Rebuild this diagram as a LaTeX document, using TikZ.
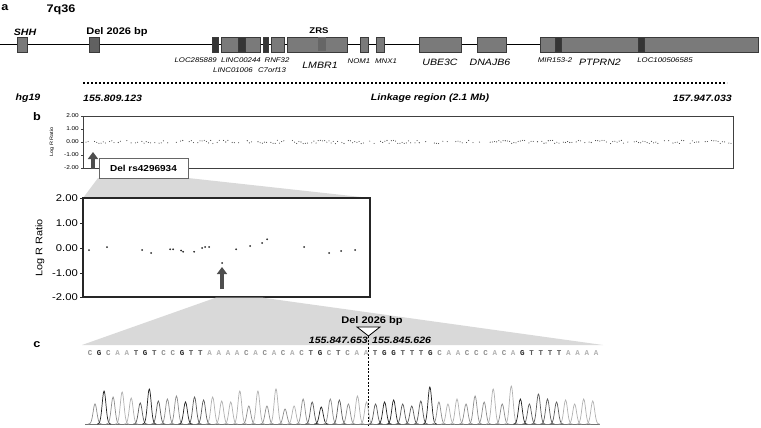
\documentclass[tikz,border=0pt]{standalone}
\usepackage{fontspec}
\setmainfont[FakeStretch=1.15]{Liberation Sans}
\setmonofont{Liberation Mono}
\usepackage{tikz}
\usetikzlibrary{arrows.meta}

\definecolor{genefill}{HTML}{7A7A7A}
\definecolor{geneedge}{HTML}{3A3A3A}
\definecolor{genedark}{HTML}{353535}
\definecolor{zoomgray}{HTML}{D9D9D9}
\definecolor{arrowgray}{HTML}{4E4E4E}
\definecolor{baseA}{HTML}{B0B0B0}
\definecolor{baseC}{HTML}{8C8C8C}
\definecolor{baseG}{HTML}{202020}
\definecolor{baseT}{HTML}{5A5A5A}

\tikzset{
  gene/.style={draw=geneedge, fill=genefill, line width=0.9pt},
  genedark/.style={draw=geneedge, fill=genedark, line width=0.9pt},
  lbl/.style={inner sep=0pt},
  glabel/.style={lbl, font=\fontsize{6.8}{7}\selectfont\itshape},
  gbig/.style={lbl, font=\fontsize{9.2}{10}\selectfont\itshape},
  boldlbl/.style={lbl, font=\fontsize{9.6}{10}\selectfont\bfseries},
  bilbl/.style={lbl, font=\fontsize{9.2}{10}\selectfont\bfseries\itshape},
  panel/.style={lbl, font=\fontsize{11}{12}\selectfont\bfseries},
  tinytick/.style={lbl, anchor=east, font=\fontsize{5.6}{6}\selectfont},
  bigtick/.style={lbl, anchor=east, font=\fontsize{9.8}{10}\selectfont},
  fatarrow/.style={-{Triangle[width=10pt,length=7pt]}, line width=4.2pt, arrowgray},
  delbox/.style={draw=black!60, fill=white, line width=0.8pt, minimum width=89pt,
    minimum height=20pt, font=\fontsize{8.7}{9}\selectfont\bfseries},
  seqbase/.style={lbl, font=\fontsize{7.5}{8}\selectfont\ttfamily\bfseries},
}

\begin{document}
\begin{tikzpicture}[x=1pt,y=-1pt]
\useasboundingbox (0,0) rectangle (761,428);

% panel a: region on 7q36
\node[panel] (pa) at (5,8) {a};
\node[lbl, font=\fontsize{11}{12}\selectfont\bfseries] (band) at (61,10) {7q36};

\draw[line width=1.2pt] (0,44.5) -- (758,44.5);

\draw[gene] (17,37) rectangle (27,52);
\draw[draw=geneedge, fill=black!62, line width=0.9pt] (89,37) rectangle (99,52);
\draw[genedark] (212,37) rectangle (218,52);
\draw[gene] (221,37) rectangle (260,52);
\fill[genedark] (238,37.5) rectangle (245,51.5);
\draw[genedark] (263,37) rectangle (268,52);
\draw[gene] (271,37) rectangle (284,52);
\draw[gene] (287,37) rectangle (347,52);
\fill[black!60] (318,37.5) rectangle (326,51.5);
\draw[gene] (360,37) rectangle (368,52);
\draw[gene] (376,37) rectangle (384,52);
\draw[gene] (419,37) rectangle (461,52);
\draw[gene] (477,37) rectangle (506,52);
\draw[gene] (540,37) rectangle (758,52);
\fill[genedark] (555,37.5) rectangle (561,51.5);
\fill[genedark] (638,37.5) rectangle (644,51.5);

\node[bilbl] (shh) at (25,32) {SHH};
\node[boldlbl] (del) at (117,32) {Del 2026 bp};
\node[lbl, font=\fontsize{8.3}{9}\selectfont\bfseries] (zrs) at (319,31) {ZRS};
\node[glabel, anchor=east] (loc1) at (217,60) {LOC285889};
\node[glabel] (linca) at (241,60) {LINC00244};
\node[glabel] (lincb) at (233,70) {LINC01006};
\node[glabel] (rnf) at (277,60) {RNF32};
\node[glabel] (c7) at (272,70) {C7orf13};
\node[gbig] (lmbr) at (320,65) {LMBR1};
\node[glabel] (nom) at (359,61) {NOM1};
\node[glabel] (mnx) at (386,61) {MNX1};
\node[gbig] (ube) at (440,62) {UBE3C};
\node[gbig] (dnaj) at (490,62) {DNAJB6};
\node[glabel] (mir) at (555,60) {MIR153-2};
\node[gbig] (ptp) at (600,62) {PTPRN2};
\node[glabel] (loc2) at (665,60) {LOC100506585};

\draw[line width=2pt, dash pattern=on 2pt off 2pt] (83,83) -- (727,83);
\node[bilbl] (hg) at (28,98) {hg19};
\node[bilbl, anchor=west] (startpos) at (83,98) {155.809.123};
\node[bilbl] (linkage) at (430,98) {Linkage region (2.1 Mb)};
\node[bilbl, anchor=east] (endpos) at (732,98) {157.947.033};

% panel b: log R ratio
\node[panel] (pb) at (37,117) {b};
\draw[black!75, line width=0.6pt] (83,116) rectangle (733,168);
\foreach \v/\yy in {2.00/116,1.00/129,0.00/142,-1.00/155,-2.00/168}{
  \draw[black!75, line width=0.4pt] (81,\yy) -- (83,\yy);
  \node[tinytick] at (79,\yy) {\v};
}
\node[lbl, rotate=90, font=\fontsize{4.8}{5}\selectfont] (logra) at (52,142) {Log R Ratio};
\pgfmathsetseed{11}
\foreach \i in {0,...,300}{
  \pgfmathtruncatemacro\keep{4*rnd}
  \pgfmathsetmacro\yy{142+1.7*rand}
  \ifnum\keep>0
    \fill[black!75] (86+2.15*\i,\yy) circle (0.55pt);
  \fi
}

% zoom wedge to the detail plot
\coordinate (lpnw) at (83,198);
\coordinate (lpne) at (370,198);
\coordinate (lpse) at (370,297);
\coordinate (lpsw) at (83,297);
\fill[zoomgray] (98,178) -- (188,178) -- (lpne) -- (lpnw) -- cycle;

\coordinate (arrAbase) at (93,169);
\coordinate (arrAtip) at (93,152);
\draw[fatarrow] (arrAbase) -- (arrAtip);
\node[delbox] (delrs) at (143.5,168) {Del rs4296934};

\draw[black!85, line width=1.2pt] (lpnw) rectangle (lpse);
\foreach \v/\yy in {2.00/198,1.00/223,0.00/248,-1.00/273,-2.00/297}{
  \draw[black!85, line width=0.5pt] (80,\yy) -- (83,\yy);
  \node[bigtick] at (78,\yy) {\v};
}
\node[lbl, rotate=90, font=\fontsize{9.5}{10}\selectfont] (lograb) at (40,248) {Log R Ratio};
\foreach \px/\v in {89/-0.08,107/0.04,142/-0.08,151/-0.2,170/-0.05,173/-0.05,
  181/-0.1,183/-0.15,194/-0.15,202/0.0,205/0.04,209/0.04,222/-0.6,236/-0.05,
  250/0.08,262/0.2,267/0.35,304/0.04,329/-0.2,341/-0.12,355/-0.08}{
  \fill[black!85] (\px,248-25*\v) circle (1pt);
}
\coordinate (arrBbase) at (222,289);
\coordinate (arrBtip) at (222,267);
\draw[fatarrow] (arrBbase) -- (arrBtip);

% panel c: sequence of the breakpoint
\coordinate (wnw) at (216,297.6);
\coordinate (wne) at (262,297.6);
\coordinate (wse) at (603,345);
\coordinate (wsw) at (82,345);
\fill[zoomgray] (wnw) -- (wne) -- (wse) -- (wsw) -- cycle;

\node[panel] (pc) at (37,345) {c};
\node[boldlbl] (delbp) at (372,321) {Del 2026 bp};
\coordinate (brk) at (368.5,336);
\coordinate (brkend) at (368.5,426);
\draw[fill=white, line width=0.8pt] (357,327) -- (380,327) -- (brk) -- cycle;
\draw[line width=0.8pt, dash pattern=on 2pt off 1.5pt] (brk) -- (brkend);
\node[bilbl, anchor=east] (posl) at (368,340) {155.847.653};
\node[bilbl, anchor=west] (posr) at (372,340) {155.845.626};

\draw[black!55, line width=0.6pt] (85,424) -- (600,424);
\foreach \b/\h [count=\i from 0] in {C/20,G/33,C/27,A/32,A/26,T/21,G/35,T/23,
  C/25,C/28,G/22,T/27,T/24,A/27,A/23,A/22,A/33,C/18,A/33,C/18,A/35,C/15,A/18,
  C/25,T/22,G/17,C/25,T/24,C/20,A/28,A/22,T/20,G/22,G/24,T/20,T/18,T/23,G/37,
  C/22,A/20,A/25,C/20,C/28,C/22,A/35,C/20,A/38,G/25,T/20,T/30,T/25,T/22,A/24,
  A/20,A/25,A/23}{
  \node[seqbase, text=base\b] at (90+9.2*\i,353) {\b};
  \pgfmathsetmacro\px{95+9.05*\i}
  \draw[color=base\b, line width=0.7pt] plot[domain=-7:7, samples=21, smooth]
    ({\px+\x},{424-\h*exp(-((\x)*(\x))/7)});
}
\end{tikzpicture}
\end{document}
